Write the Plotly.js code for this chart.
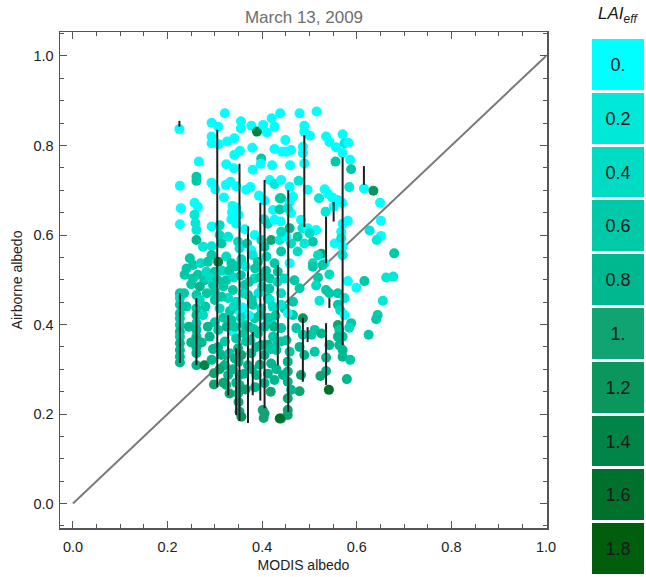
<!DOCTYPE html>
<html>
<head>
<meta charset="utf-8">
<script src="https://cdn.plot.ly/plotly-3.0.1.min.js"></script>
<style>html,body{margin:0;padding:0;background:#fff;}#chart{width:646px;height:577px;}</style>
</head>
<body>
<div id="chart"></div>
<script>
// ---- data ----
const modisAlbedo = [
0.225,0.321,0.293,0.307,0.355,0.355,0.377,0.389,0.402,0.410,
0.420,0.426,0.438,0.293,0.293,0.308,0.326,0.341,0.379,0.353,
0.341,0.426,0.442,0.398,0.266,0.324,0.340,0.397,0.380,0.421,
0.261,0.261,0.226,0.293,0.301,0.323,0.333,0.345,0.366,0.375,
0.416,0.426,0.319,0.393,0.405,0.437,0.228,0.257,0.264,0.337,
0.345,0.350,0.336,0.423,0.437,0.226,0.257,0.259,0.293,0.310,
0.335,0.345,0.363,0.384,0.404,0.412,0.426,0.439,0.261,0.261,
0.275,0.293,0.310,0.314,0.328,0.349,0.352,0.368,0.377,0.398,
0.405,0.419,0.437,0.247,0.254,0.270,0.293,0.307,0.324,0.335,
0.356,0.380,0.391,0.409,0.426,0.479,0.515,0.489,0.489,0.501,
0.535,0.542,0.556,0.570,0.574,0.582,0.449,0.451,0.461,0.486,
0.486,0.570,0.586,0.555,0.588,0.459,0.489,0.496,0.477,0.440,
0.458,0.440,0.458,0.465,0.520,0.532,0.539,0.548,0.560,0.569,
0.551,0.584,0.615,0.635,0.649,0.627,0.651,0.651,0.642,0.679,
0.534,0.581,0.570,0.567,0.553,0.567,0.570,0.570,0.525,0.518,
0.532,0.514,0.507,0.482,0.485,0.496,0.500,0.475,0.489,0.461,
0.451,0.458,0.461,0.454,0.440,0.475,0.458,0.440,0.507,0.542,
0.581,0.599,0.616,0.662,0.677,0.518,0.514,0.535,0.542,0.560,
0.574,0.521,0.560,0.565,0.574,0.560,0.588,0.584,0.563,0.570,
0.560,0.563,0.570,0.570,0.586,0.542,0.535,0.535,0.523,0.541,
0.579,0.625,0.644,0.641,0.655,0.486,0.472,0.486,0.504,0.511,
0.525,0.479,0.489,0.511,0.482,0.479,0.458,0.454,0.454,0.454,
0.461,0.454,0.454,0.454,0.440,0.444,0.451,0.440,0.465,0.447,
0.465,0.440,0.479,0.507,0.528,0.468,0.447,0.226,0.226,0.226,
0.226,0.226,0.226,0.226,0.226,0.226,0.226,0.226,0.226,0.261,
0.261,0.261,0.261,0.261,0.261,0.261,0.261,0.261,0.261,0.236,
0.254,0.264,0.278,0.282,0.268,0.275,0.278,0.289,0.293,0.298,
0.298,0.296,0.300,0.300,0.310,0.307,0.307,0.314,0.321,0.328,
0.324,0.331,0.335,0.338,0.345,0.349,0.350,0.352,0.352,0.349,
0.350,0.352,0.356,0.359,0.363,0.366,0.370,0.377,0.380,0.384,
0.388,0.391,0.398,0.405,0.405,0.401,0.405,0.412,0.419,0.423,
0.419,0.426,0.437,0.433,0.416,0.384,0.363,0.338,0.324,0.300,
0.440,0.440,0.430,0.321,0.331,0.342,0.328,0.314,0.345,0.370,
0.398,0.405,0.356,0.350,0.359,0.454,0.416,0.403,0.392,0.372,
0.240,0.250,0.268,0.283,0.285,0.290,0.305,0.315,0.318,0.330,
0.340,0.345,0.355,0.360,0.365,0.372,0.378,0.385,0.395,0.400,
0.408,0.415,0.422,0.428,0.432,0.318,0.325,0.332,0.340,0.342,
0.355,0.362,0.372,0.375,0.382,0.388,0.395,0.395,0.412,0.412,
0.418,0.425,0.432,0.300,0.296,0.310,0.318,0.338,0.345,0.362,
0.365,0.378,0.385,0.412,0.418,0.430,0.280,0.285,0.272,0.240,
0.245,0.250,0.235
];
const airborneAlbedo = [
0.837,0.872,0.851,0.842,0.854,0.838,0.844,0.831,0.846,0.829,
0.861,0.842,0.872,0.820,0.805,0.803,0.809,0.816,0.795,0.788,
0.779,0.792,0.786,0.771,0.764,0.758,0.749,0.759,0.746,0.756,
0.730,0.721,0.710,0.717,0.702,0.712,0.719,0.709,0.701,0.707,
0.723,0.714,0.684,0.688,0.677,0.682,0.660,0.672,0.663,0.665,
0.661,0.645,0.650,0.656,0.657,0.624,0.645,0.627,0.619,0.622,
0.635,0.625,0.613,0.600,0.635,0.625,0.634,0.630,0.611,0.589,
0.574,0.575,0.600,0.581,0.596,0.585,0.570,0.581,0.566,0.589,
0.574,0.589,0.589,0.548,0.533,0.537,0.555,0.540,0.552,0.537,
0.546,0.555,0.540,0.552,0.537,0.872,0.876,0.844,0.831,0.822,
0.820,0.808,0.796,0.825,0.805,0.806,0.812,0.786,0.790,0.797,
0.783,0.783,0.768,0.764,0.747,0.756,0.760,0.701,0.721,0.723,
0.708,0.682,0.674,0.686,0.682,0.702,0.692,0.684,0.678,0.672,
0.663,0.707,0.704,0.699,0.672,0.610,0.632,0.598,0.589,0.559,
0.652,0.632,0.625,0.607,0.581,0.593,0.574,0.555,0.558,0.555,
0.537,0.611,0.585,0.634,0.615,0.615,0.604,0.596,0.581,0.581,
0.596,0.615,0.649,0.660,0.607,0.563,0.537,0.563,0.537,0.512,
0.497,0.482,0.497,0.505,0.507,0.505,0.487,0.477,0.470,0.470,
0.459,0.453,0.444,0.432,0.421,0.399,0.403,0.393,0.388,0.373,
0.373,0.354,0.343,0.328,0.321,0.354,0.326,0.296,0.285,0.254,
0.278,0.377,0.421,0.412,0.453,0.414,0.392,0.377,0.377,0.388,
0.380,0.350,0.332,0.339,0.287,0.251,0.339,0.317,0.295,0.272,
0.254,0.235,0.209,0.198,0.190,0.287,0.365,0.392,0.421,0.436,
0.451,0.470,0.481,0.529,0.533,0.499,0.503,0.470,0.459,0.444,
0.425,0.414,0.399,0.384,0.373,0.358,0.343,0.328,0.315,0.466,
0.436,0.421,0.403,0.388,0.373,0.365,0.350,0.336,0.309,0.511,
0.503,0.511,0.499,0.518,0.455,0.421,0.309,0.373,0.321,0.291,
0.266,0.488,0.473,0.455,0.436,0.388,0.350,0.332,0.309,0.287,
0.265,0.246,0.410,0.384,0.369,0.347,0.317,0.287,0.265,0.246,
0.227,0.205,0.194,0.429,0.399,0.362,0.309,0.336,0.444,0.414,
0.287,0.380,0.354,0.332,0.269,0.209,0.201,0.459,0.403,0.373,
0.313,0.276,0.190,0.518,0.503,0.503,0.488,0.477,0.499,0.518,
0.444,0.362,0.343,0.362,0.336,0.324,0.459,0.462,0.451,0.466,
0.436,0.395,0.332,0.432,0.438,0.425,0.455,0.191,0.470,0.420,
0.525,0.490,0.485,0.470,0.540,0.505,0.500,0.520,0.485,0.520,
0.505,0.530,0.510,0.470,0.530,0.495,0.455,0.525,0.505,0.485,
0.520,0.480,0.440,0.420,0.495,0.415,0.395,0.430,0.440,0.395,
0.415,0.380,0.395,0.365,0.390,0.350,0.420,0.310,0.355,0.415,
0.345,0.395,0.360,0.405,0.345,0.300,0.270,0.300,0.270,0.290,
0.255,0.300,0.260,0.290,0.250,0.300,0.440,0.395,0.360,0.440,
0.395,0.360,0.470
];
const laiEff = [
0,0,0,0,0,0,0,1.4,0,0,
0,0,0,0,0,0,0,0,0,0,
0,0,0,0.6,0,0,0,0,0,0,
0.6,0.6,0,0,0,0,0,0,0,0,
0,0.2,0,0,0,0.4,0,0,0,0,
0,0,0,0,0.6,0,0.2,0.2,0,0.4,
0,0,0,0,0.2,0.4,0,0,0.2,0.8,
0.2,0.2,0.4,0.6,0.2,0.4,0.2,0.6,0,0.4,
0.6,1.0,0.2,0.6,0.6,0.4,0.6,1.4,0.4,0.6,
0.4,0.2,0.6,0.4,0.6,0,0,0,0,0,
0,0,0,0,0.2,0,0,0,0,0,
0,0,0,0.6,0.6,0,0,0,0.2,0,
0,0.6,0,0,0.2,0,0,0,0,0,
0,0.2,0,1.2,0,0.2,0,0,0.2,0.6,
0.2,0,0,0,0,0.2,0,0.2,1.0,0.4,
0,0,0.6,0,0.2,0,0.4,0.6,0.2,0.4,
0,0.8,0,0.2,0.4,0.4,0,0.6,0.4,0.4,
0,0,0.6,0.2,0.2,0.6,0.4,0.6,0.6,0.6,
0.2,0.2,0.6,0.4,0,1.0,0.6,0.4,0.6,0.6,
0.8,0.8,0.8,0.8,0.6,0.8,0.8,0.8,1.0,1.6,
0.8,0.6,0.6,0.6,0.2,1.2,0.6,0.6,0.6,0.6,
0.8,0.8,0.8,0.6,1.0,1.0,0.6,0.8,0.8,0.8,
0.8,1.0,1.0,1.0,1.2,0.8,0.6,0.6,0.6,0.6,
0.6,0.4,0.6,0.6,0.6,0.6,0.4,0.6,0.4,0.6,
0.6,0.6,0.6,0.8,0.6,0.8,0.8,0.8,0.8,0.6,
0.6,0.8,0.6,0.8,0.8,1.0,0.8,0.8,0.8,0.6,
0.6,0.6,0.6,0.4,0.4,0.4,1.4,0.8,0.8,1.0,
1.0,0.6,0.6,0.6,0.4,0.6,0.8,0.8,0.8,0.8,
0.8,1.0,0.6,0,0.6,0.8,0.8,0.8,0.8,0.8,
1.0,1.0,1.2,0.6,0.6,0.6,0.8,0.8,0.6,0.6,
0.8,0.6,0.8,0.8,0.8,1.0,1.0,0.6,0.4,0.6,
0.8,0.8,1.6,0.6,0.6,0.4,0.6,0.6,0.6,0.6,
0.2,0.6,0.6,0.6,0.6,0.8,0.4,0.6,0.4,0.6,
0.4,0.6,1.0,0,0,0,0.2,1.0,0.2,0,
0.6,0.6,0.8,0.6,0.6,0.4,0.6,0.4,0.6,0.6,
0.4,0.6,0.6,0.4,0.2,0.6,0.6,0.6,0.6,0.4,
0.6,0.6,0.4,0.6,0.4,0.6,0.8,0.6,0.4,0.6,
0.4,0.6,0.8,0.6,0.6,0.8,0.6,0.8,0.8,0.6,
0.6,0.8,0.6,0.6,0.8,1.0,1.0,0.8,0.8,0.8,
1.0,0.8,0.8,0.8,1.0,0.8,0.6,0.8,0.8,0.6,
0.8,0.8,0.6
];
// vertical bars (airborne albedo spread)
const barX    = [0.225,0.305,0.352,0.370,0.396,0.405,0.455,0.489,0.486,0.570,0.615,0.551,0.535,0.535,0.542,0.496,0.226,0.261,0.328,0.345,0.380,0.433];
const barLow  = [0.842,0.260,0.185,0.180,0.230,0.213,0.205,0.618,0.272,0.354,0.712,0.630,0.537,0.265,0.437,0.361,0.314,0.309,0.242,0.198,0.242,0.309];
const barHigh = [0.855,0.835,0.759,0.619,0.672,0.723,0.700,0.823,0.415,0.774,0.754,0.674,0.641,0.403,0.459,0.394,0.470,0.459,0.421,0.347,0.383,0.533];
const oneToOne = [0, 1];
const laiLevels = [0, 0.2, 0.4, 0.6, 0.8, 1.0, 1.2, 1.4, 1.6, 1.8];
const laiLabels = ["0.", "0.2", "0.4", "0.6", "0.8", "1.", "1.2", "1.4", "1.6", "1.8"];
const laiColors = ["#00ffff","#00e8d8","#00dcc3","#00c9a8","#00b890","#10a472","#0a965c","#008447","#00712d","#005e0c"];
const xTickVals = [0, 0.2, 0.4, 0.6, 0.8, 1.0];
const yTickVals = [0, 0.2, 0.4, 0.6, 0.8, 1.0];

// ---- build ----
const cmax = laiLevels[laiLevels.length - 1];
const colorscale = laiLevels.map((v, i) => [v / cmax, laiColors[i]]);

const barXs = [], barYs = [];
barX.forEach((x, i) => { barXs.push(x, x, null); barYs.push(barLow[i], barHigh[i], null); });

const FONT = "Liberation Sans, Arial, sans-serif";

const traces = [
  { type: "scatter", mode: "lines", x: oneToOne, y: oneToOne,
    line: { color: "#7a7a7a", width: 2 }, hoverinfo: "skip", xaxis: "x", yaxis: "y" },
  { type: "scatter", mode: "markers", x: modisAlbedo, y: airborneAlbedo,
    marker: { size: 10, color: laiEff, colorscale: colorscale, cmin: 0, cmax: cmax,
              showscale: false, line: { width: 0 } }, xaxis: "x", yaxis: "y" },
  { type: "scatter", mode: "lines", x: barXs, y: barYs, connectgaps: false,
    line: { color: "#1e1e1e", width: 2 }, hoverinfo: "skip", xaxis: "x", yaxis: "y" },
  { type: "heatmap", x: [0], y: laiLevels.map((_, i) => i), z: laiLevels.map(v => [v]),
    text: laiLabels.map(t => [t]), texttemplate: "%{text}",
    textfont: { family: FONT, size: 18, color: "#1a1a1a" },
    colorscale: colorscale, zmin: 0, zmax: cmax, showscale: false,
    xgap: 0, ygap: 3, xaxis: "x2", yaxis: "y2", hoverinfo: "skip" }
];

const axisCommon = {
  ticks: "inside", ticklen: 7, tickwidth: 1, tickcolor: "#555",
  showline: true, linecolor: "#555", linewidth: 1.5, mirror: "allticks",
  showgrid: false, zeroline: false, tickformat: ".1f",
  tickfont: { family: FONT, size: 14.5, color: "#222" },
  minor: { ticks: "inside", ticklen: 4, tickcolor: "#555", dtick: 0.05, tick0: 0, showgrid: false }
};

const layout = {
  width: 646, height: 577,
  margin: { l: 0, r: 0, t: 0, b: 0 },
  paper_bgcolor: "#fff", plot_bgcolor: "#fff",
  showlegend: false,
  font: { family: FONT },
  title: { text: "March 13, 2009", x: 304 / 646, xanchor: "center", xref: "container",
           y: 1 - 17 / 577, yanchor: "middle", yref: "container",
           font: { family: FONT, size: 17, color: "#6e6e6e" } },
  xaxis: Object.assign({}, axisCommon, {
    domain: [60 / 646, 547 / 646], range: [-0.0274, 1.002], tickvals: xTickVals,
    anchor: "y", ticklabelstandoff: 5,
    title: { text: "MODIS albedo", font: { family: FONT, size: 14, color: "#222" }, standoff: 6 }
  }),
  yaxis: Object.assign({}, axisCommon, {
    domain: [(577 - 528) / 577, (577 - 32) / 577], range: [-0.0547, 1.0536], tickvals: yTickVals,
    anchor: "x", ticklabelstandoff: 2,
    title: { text: "Airborne albedo", font: { family: FONT, size: 14, color: "#222" }, standoff: 7 }
  }),
  xaxis2: { domain: [592 / 646, 644 / 646], range: [-0.5, 0.5], visible: false, anchor: "y2", fixedrange: true },
  yaxis2: { domain: [1 / 577, (577 - 38) / 577], range: [9.5, -0.5], visible: false, anchor: "x2", fixedrange: true },
  annotations: [
    { text: "<i>LAI<sub>eff</sub></i>", xref: "paper", yref: "paper",
      x: 618 / 646, y: 1 - 15 / 577, xanchor: "center", yanchor: "middle", showarrow: false,
      font: { family: FONT, size: 17, color: "#1a1a1a" } }
  ]
};

Plotly.newPlot("chart", traces, layout, { displayModeBar: false, staticPlot: true });
</script>
</body>
</html>
